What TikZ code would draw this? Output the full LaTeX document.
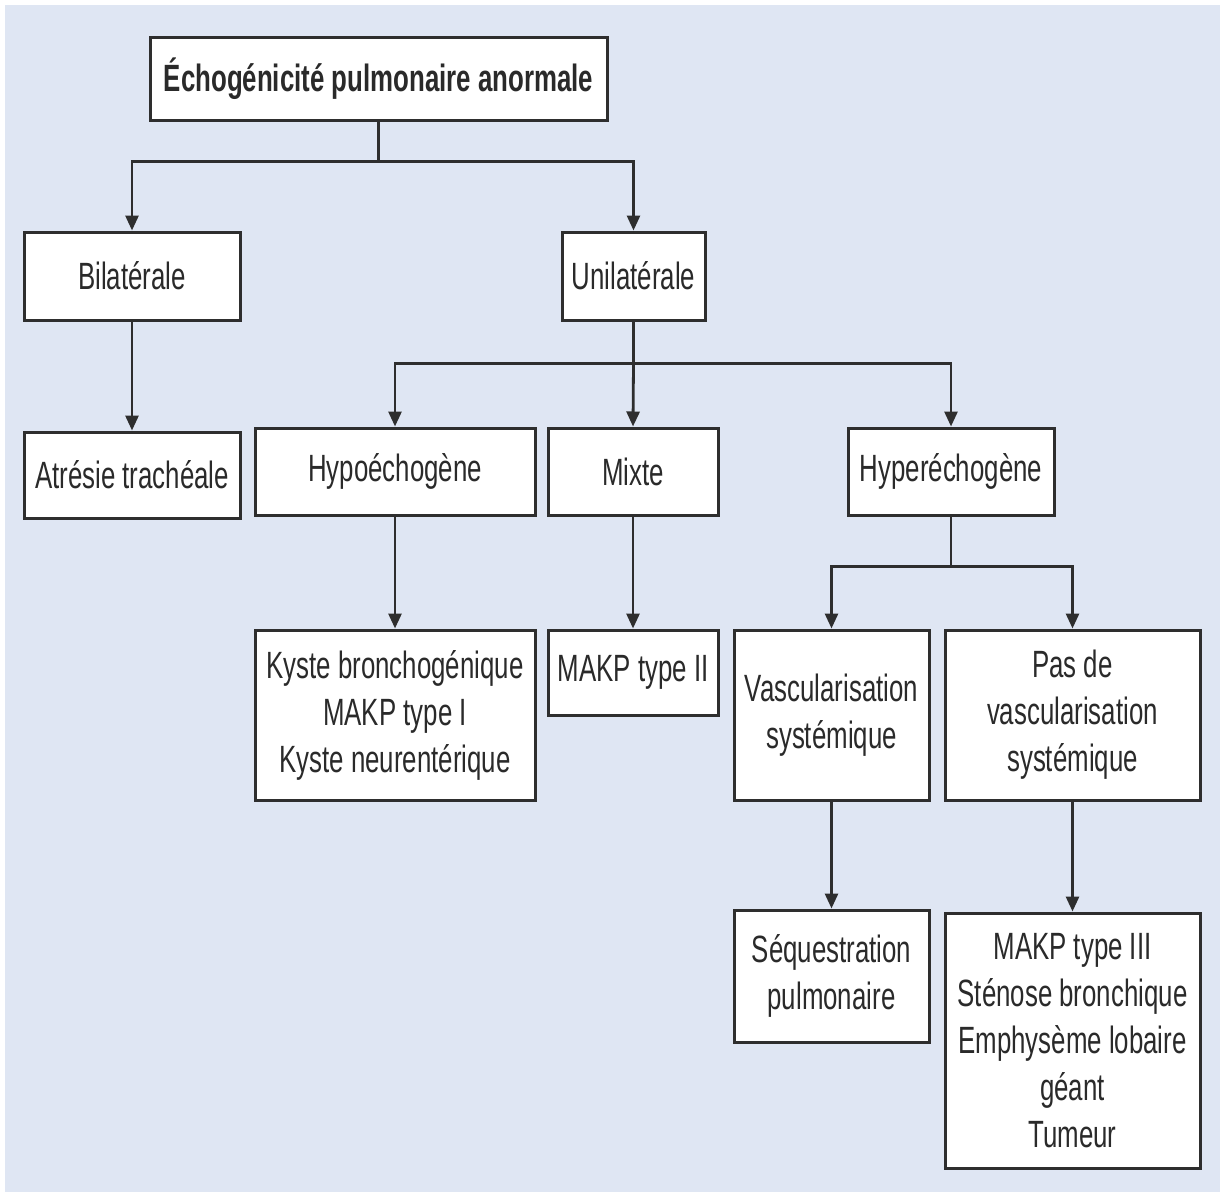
\documentclass[tikz,border=0pt]{standalone}
\usepackage{fontspec}
\setmainfont{Liberation Sans}[FakeStretch=0.68]
\usetikzlibrary{arrows.meta}
\definecolor{bgblue}{HTML}{DFE6F3}
\definecolor{edge}{HTML}{2E2E2E}
\definecolor{txt}{HTML}{2A2A2A}
\begin{document}
\begin{tikzpicture}[x=1pt,y=-1pt,
  box/.style={draw=edge, line width=3pt, fill=white, align=center, inner sep=0pt, text=txt,
    font=\fontsize{38}{47}\selectfont},
  arr/.style={draw=edge, line width=2.8pt, -{Triangle[length=15pt,width=13pt]}},
  lin/.style={draw=edge, line width=2.8pt}]
\useasboundingbox (0,0) rectangle (1220,1192);
\fill[white] (0,0) rectangle (1220,1192);
\fill[bgblue] (5,5) rectangle (1220,1192);

\node[box, minimum width=457pt, minimum height=83pt, font=\fontsize{38}{47}\selectfont\bfseries] (top) at (378.5,78.5) {Échogénicité pulmonaire anormale};
\node[box, minimum width=216pt, minimum height=88pt] (bil) at (132,276) {Bilatérale};
\node[box, minimum width=143pt, minimum height=88pt] (uni) at (633.5,276) {Unilatérale};
\node[box, minimum width=216pt, minimum height=86pt] (atr) at (132,475) {Atrésie trachéale};
\node[box, minimum width=280pt, minimum height=87pt] (hypo) at (395,471.5) {Hypoéchogène};
\node[box, minimum width=170pt, minimum height=87pt] (mix) at (633,471.5) {Mixte};
\node[box, minimum width=206pt, minimum height=87pt] (hyper) at (951,471.5) {Hyperéchogène};
\node[box, minimum width=280pt, minimum height=170pt] (kys) at (395,715) {Kyste bronchogénique\\MAKP type I\\Kyste neurentérique};
\node[box, minimum width=170pt, minimum height=85pt] (mk2) at (633,672.5) {MAKP type II};
\node[box, minimum width=195pt, minimum height=170pt] (vasc) at (831.5,715) {Vascularisation\\systémique};
\node[box, minimum width=255pt, minimum height=170pt] (pas) at (1072.5,715) {Pas de\\vascularisation\\systémique};
\node[box, minimum width=195pt, minimum height=132pt] (seq) at (831.5,976) {Séquestration\\pulmonaire};
\node[box, minimum width=255pt, minimum height=255pt] (mk3) at (1072.5,1040.5) {MAKP type III\\Sténose bronchique\\Emphysème lobaire\\géant\\Tumeur};

\coordinate (j1) at ([yshift=-40pt]top.south);
\draw[lin] (top.south) -- (j1);
\draw[arr] (j1) -| (bil.north);
\draw[arr] (j1) -| (uni.north);
\draw[arr] (bil.south) -- (atr.north);

\coordinate (j2) at ([yshift=-42pt]uni.south);
\draw[lin] (uni.south) -- (j2);
\draw[arr] (j2) -| (hypo.north);
\draw[arr] (j2) -- (mix.north);
\draw[arr] (j2) -| (hyper.north);
\draw[arr] (hypo.south) -- (kys.north);
\draw[arr] (mix.south) -- (mk2.north);

\coordinate (j3) at ([yshift=-50pt]hyper.south);
\draw[lin] (hyper.south) -- (j3);
\draw[arr] (j3) -| (vasc.north);
\draw[arr] (j3) -| (pas.north);
\draw[arr] (vasc.south) -- (seq.north);
\draw[arr] (pas.south) -- (mk3.north);
\end{tikzpicture}
\end{document}
